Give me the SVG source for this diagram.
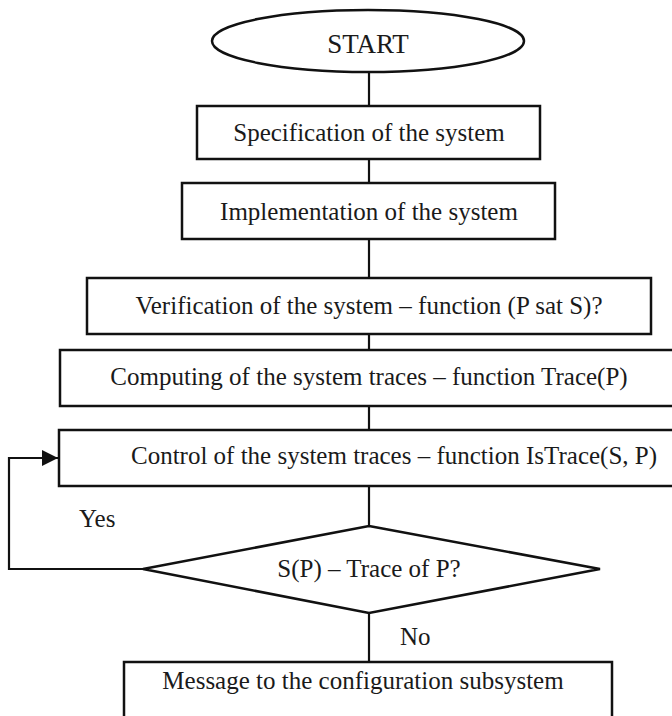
<svg xmlns="http://www.w3.org/2000/svg" width="672" height="716" viewBox="0 0 672 716">
<defs>
<style>
.shape{fill:#fff;stroke:#111;stroke-width:2.5}
.conn{fill:none;stroke:#111;stroke-width:2.2}
text{font-family:"Liberation Serif","Times New Roman",serif;font-size:25px;fill:#1a1a1a}
.c{text-anchor:middle}
</style>
<marker id="arr" markerWidth="16" markerHeight="16" refX="16" refY="8" orient="auto" markerUnits="userSpaceOnUse">
<path d="M0,0 L16,8 L0,16 Z" fill="#111"/>
</marker>
</defs>
<rect width="672" height="716" fill="#fff"/>
<g id="connectors">
<line class="conn" x1="369" y1="72" x2="369" y2="106"/>
<line class="conn" x1="369" y1="159" x2="369" y2="183"/>
<line class="conn" x1="369" y1="239" x2="369" y2="278"/>
<line class="conn" x1="369" y1="334" x2="369" y2="350"/>
<line class="conn" x1="369" y1="406" x2="369" y2="430"/>
<line class="conn" x1="369" y1="486" x2="369" y2="526"/>
<line class="conn" x1="369" y1="613" x2="369" y2="662"/>
<polyline class="conn" points="143,569 9,569 9,458 58,458" marker-end="url(#arr)"/>
<text x="79" y="527">Yes</text>
<text x="400" y="645">No</text>
</g>
<g id="start">
<ellipse class="shape" cx="368" cy="41" rx="156" ry="31"/>
<text class="c" x="368" y="53" style="font-size:27px">START</text>
</g>
<g id="spec">
<rect class="shape" x="197" y="106" width="343" height="53"/>
<text class="c" x="369" y="141">Specification of the system</text>
</g>
<g id="impl">
<rect class="shape" x="182" y="183" width="373" height="56"/>
<text class="c" x="369" y="220">Implementation of the system</text>
</g>
<g id="verif">
<rect class="shape" x="87" y="278" width="564" height="56"/>
<text class="c" x="369" y="314">Verification of the system – function (P sat S)?</text>
</g>
<g id="compute">
<rect class="shape" x="60" y="350" width="618" height="56"/>
<text class="c" x="369" y="385">Computing of the system traces – function Trace(P)</text>
</g>
<g id="control">
<rect class="shape" x="59" y="430" width="625" height="56"/>
<text class="c" x="394" y="464">Control of the system traces – function IsTrace(S, P)</text>
</g>
<g id="decision">
<polygon class="shape" points="369,526 600,569 369,613 143,569"/>
<text class="c" x="369" y="577">S(P) – Trace of P?</text>
</g>
<g id="message">
<rect class="shape" x="124" y="662" width="488" height="70"/>
<text class="c" x="363" y="689">Message to the configuration subsystem</text>
</g>
</svg>
